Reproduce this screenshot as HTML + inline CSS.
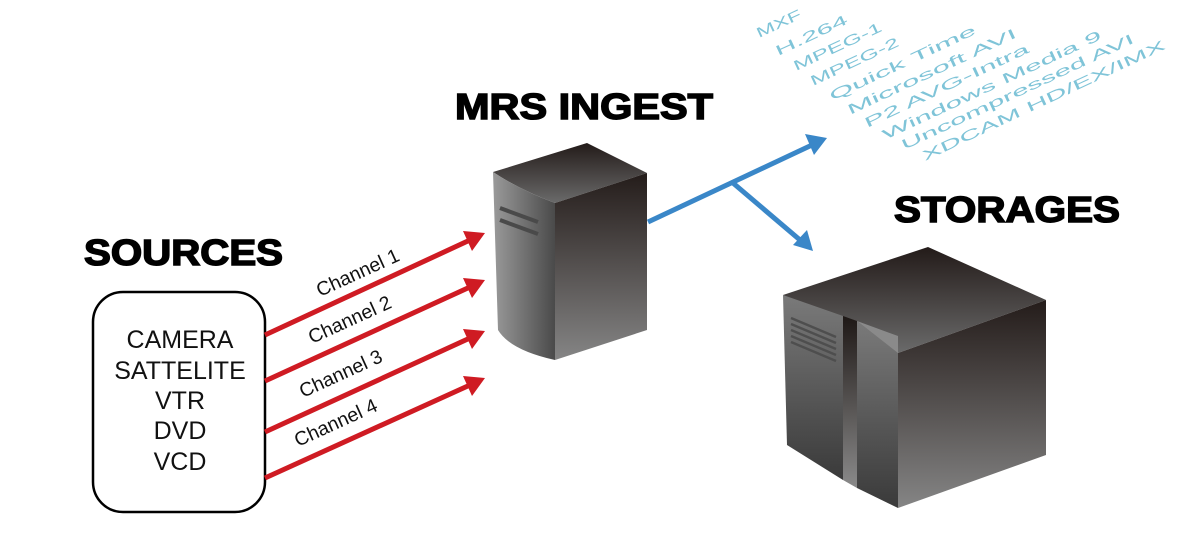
<!DOCTYPE html>
<html><head><meta charset="utf-8"><style>html,body{margin:0;padding:0;background:#fff}svg{display:block}</style></head>
<body>
<svg width="1200" height="536" viewBox="0 0 1200 536" xmlns="http://www.w3.org/2000/svg">
<defs>
<linearGradient id="top" x1="0" y1="0" x2="0" y2="1"><stop offset="0" stop-color="#231b19"/><stop offset="1" stop-color="#6a6a6a"/></linearGradient>
<linearGradient id="front" x1="0" y1="0" x2="0" y2="1"><stop offset="0" stop-color="#241c1a"/><stop offset="1" stop-color="#858585"/></linearGradient>
<linearGradient id="side" x1="0" y1="0" x2="1" y2="0"><stop offset="0" stop-color="#9a9a9a"/><stop offset="1" stop-color="#4a4a4a"/></linearGradient>
<linearGradient id="side2" x1="0" y1="0" x2="0" y2="1"><stop offset="0" stop-color="#7a7a7a"/><stop offset="1" stop-color="#3a3a3a"/></linearGradient>
<linearGradient id="strip" x1="0" y1="0" x2="0" y2="1"><stop offset="0" stop-color="#1e1816"/><stop offset="1" stop-color="#8a8a8a"/></linearGradient>
</defs>

<text x="455" y="119" font-family="Liberation Sans, sans-serif" font-weight="bold" font-size="36" textLength="258" lengthAdjust="spacingAndGlyphs" stroke="#000" stroke-width="1.5">MRS INGEST</text>
<text x="84" y="265" font-family="Liberation Sans, sans-serif" font-weight="bold" font-size="36" textLength="199" lengthAdjust="spacingAndGlyphs" stroke="#000" stroke-width="1.5">SOURCES</text>
<text x="894" y="222" font-family="Liberation Sans, sans-serif" font-weight="bold" font-size="36" textLength="226" lengthAdjust="spacingAndGlyphs" stroke="#000" stroke-width="1.5">STORAGES</text>

<rect x="93" y="292" width="172" height="220" rx="30" fill="#fff" stroke="#000" stroke-width="2.5"/>
<g font-family="Liberation Sans, sans-serif" font-size="25" text-anchor="middle" fill="#111">
<text x="180" y="348">CAMERA</text>
<text x="180" y="379">SATTELITE</text>
<text x="180" y="409">VTR</text>
<text x="180" y="439">DVD</text>
<text x="180" y="470">VCD</text>
</g>

<g stroke="#cf1b23" stroke-width="5" fill="#cf1b23">
<line x1="265" y1="335" x2="470" y2="240"/>
<line x1="265" y1="381" x2="470" y2="287"/>
<line x1="265" y1="432" x2="470" y2="338"/>
<line x1="265" y1="478" x2="470" y2="385"/>
</g>
<g fill="#cf1b23">
<polygon points="485,233 463,231 472,251"/>
<polygon points="485,280 463,278 472,298"/>
<polygon points="485,331 463,329 472,349"/>
<polygon points="485,378 463,376 472,396"/>
</g>
<g font-family="Liberation Sans, sans-serif" font-size="19.5" fill="#111">
<text transform="translate(320,297) rotate(-24.5)">Channel 1</text>
<text transform="translate(312,344) rotate(-24.5)">Channel 2</text>
<text transform="translate(303,398) rotate(-24.5)">Channel 3</text>
<text transform="translate(298,447) rotate(-24.5)">Channel 4</text>
</g>

<path d="M493,172 L587,143 L647,173 L555,203 Q520,190 493,172 Z" fill="url(#top)"/>
<path d="M493,172 Q520,190 555,203 L555,360 Q510,350 498,330 Z" fill="url(#side)"/>
<path d="M555,203 L647,173 L647,330 L555,360 Z" fill="url(#front)"/>
<g stroke="#4a4a4a" stroke-width="4">
<line x1="500" y1="208" x2="538" y2="222"/>
<line x1="500" y1="220" x2="538" y2="234"/>
</g>

<g stroke="#3a87c8" stroke-width="5">
<line x1="648" y1="222" x2="812" y2="145"/>
<line x1="733" y1="183" x2="800" y2="240"/>
</g>
<polygon points="827,138 805,134 814,155" fill="#3a87c8"/>
<polygon points="813,251 793,245 807,230" fill="#3a87c8"/>

<path d="M783,295 L928,247 L1046,300 L898,353 Z" fill="url(#top)"/>
<path d="M783,295 L843,316 L843,480 L787,445 Z" fill="url(#side2)"/>
<path d="M843,316 L857,321 L857,488 L843,480 Z" fill="url(#strip)"/>
<path d="M857,321 L898,353 L898,508 L857,488 Z" fill="url(#side2)"/>
<path d="M857,321 L898,336 L898,353 Z" fill="#8a8a8a"/>
<path d="M898,353 L1046,300 L1046,455 L898,508 Z" fill="url(#front)"/>
<g stroke="#4e4e4e" stroke-width="2.5">
<line x1="791" y1="318" x2="836" y2="337"/>
<line x1="791" y1="324" x2="836" y2="343"/>
<line x1="791" y1="330" x2="836" y2="349"/>
<line x1="791" y1="336" x2="836" y2="355"/>
<line x1="791" y1="342" x2="836" y2="361"/>
</g>

<g font-family="Liberation Sans, sans-serif" font-size="14" fill="#7fc4d8">
<text transform="translate(759,38) rotate(-25)" textLength="48" lengthAdjust="spacingAndGlyphs">MXF</text>
<text transform="translate(778,56) rotate(-25)" textLength="78" lengthAdjust="spacingAndGlyphs">H.264</text>
<text transform="translate(796,71) rotate(-25)" textLength="96" lengthAdjust="spacingAndGlyphs">MPEG-1</text>
<text transform="translate(813,86) rotate(-25)" textLength="96" lengthAdjust="spacingAndGlyphs">MPEG-2</text>
<text transform="translate(832,101) rotate(-25)" textLength="160" lengthAdjust="spacingAndGlyphs">Quick Time</text>
<text transform="translate(850,115) rotate(-25)" textLength="185" lengthAdjust="spacingAndGlyphs">Microsoft AVI</text>
<text transform="translate(867,128) rotate(-25)" textLength="180" lengthAdjust="spacingAndGlyphs">P2 AVG-Intra</text>
<text transform="translate(885,140) rotate(-25)" textLength="240" lengthAdjust="spacingAndGlyphs">Windows Media 9</text>
<text transform="translate(904,150) rotate(-25)" textLength="255" lengthAdjust="spacingAndGlyphs">Uncompressed AVI</text>
<text transform="translate(925,161) rotate(-25)" textLength="266" lengthAdjust="spacingAndGlyphs">XDCAM HD/EX/IMX</text>
</g>
</svg>
</body></html>
